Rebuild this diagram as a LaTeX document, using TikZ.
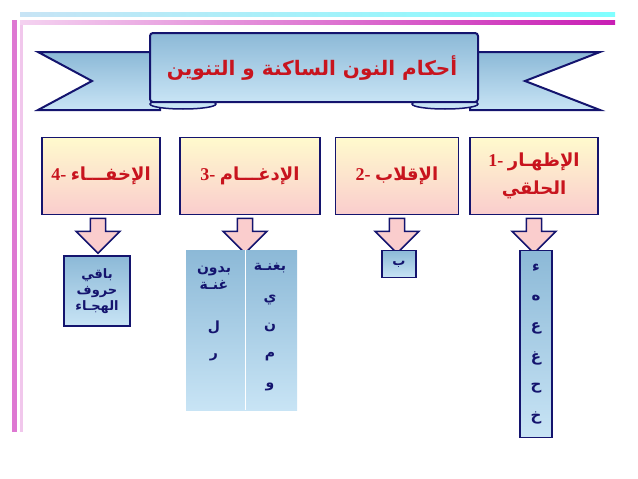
\documentclass[tikz,border=0pt]{standalone}
\usepackage{fontspec}
\setmainfont{Liberation Serif}
\newfontfamily\arab[Script=Arabic]{DejaVu Sans}
\TeXXeTstate=1
\usetikzlibrary{shapes.arrows}
\definecolor{navy}{RGB}{20,20,110}
\definecolor{tred}{RGB}{200,20,30}
\definecolor{ltblue}{RGB}{200,228,245}
\definecolor{midblue}{RGB}{140,185,215}
\definecolor{ylw}{RGB}{255,250,205}
\definecolor{pnk}{RGB}{250,205,205}
\definecolor{mag}{RGB}{200,30,180}
\begin{document}
\begin{tikzpicture}[x=1pt,y=-1pt,
  catbox/.style={draw=navy,line width=1.2pt,top color=ylw,bottom color=pnk,minimum height=77pt,align=center,font=\bfseries\fontsize{18}{22}\selectfont,text=tred},
  letbox/.style={draw=navy,line width=1.5pt,top color=midblue,bottom color=ltblue,align=center,font=\arab\bfseries\fontsize{13}{16}\selectfont,text=navy},
  darr/.style={single arrow,shape border rotate=270,draw=navy,line width=1.5pt,fill=pnk,minimum height=35pt,minimum width=44pt,single arrow head extend=9pt,inner sep=4pt}]
\useasboundingbox (0,0) rectangle (638,479);
% decoration
\fill[mag!60] (12,20) rectangle (17,432);
\fill[mag!25] (20,24) rectangle (23,432);
\shade[left color=ltblue,right color=cyan!50] (20,12) rectangle (615,16);
\shade[left color=mag!20,right color=mag] (20,20) rectangle (615,24);
% banner
\coordinate (c) at (312,68);
\shade[draw=navy,line width=2pt,top color=midblue,bottom color=ltblue] (38,52) -- (160,52) -- (160,110) -- (38,110) -- (92,81) -- cycle;
\shade[draw=navy,line width=2pt,top color=midblue,bottom color=ltblue] (600,52) -- (470,52) -- (470,110) -- (600,110) -- (525,81) -- cycle;
\draw[navy,line width=1.5pt,fill=ltblue] (183,104) ellipse (33 and 5);
\draw[navy,line width=1.5pt,fill=ltblue] (445,104) ellipse (33 and 5);
\shade[draw=navy,line width=2pt,top color=midblue,bottom color=ltblue,rounded corners=3pt] (150,33) rectangle (478,102);
\node[font=\arab\bfseries\fontsize{20}{24}\selectfont,text=tred] (title) at (c) {\beginR أحكام النون الساكنة و التنوين\endR};
% category boxes
\node[catbox,minimum width=128pt] (b1) at (534,176) {1- {\arab\beginR الإظهـار\endR}\\[6pt]{\arab\beginR الحلقي\endR}};
\node[catbox,minimum width=123pt] (b2) at (397,176) {2- {\arab\beginR الإقلاب\endR}};
\node[catbox,minimum width=140pt] (b3) at (250,176) {3- {\arab\beginR الإدغـــام\endR}};
\node[catbox,minimum width=118pt] (b4) at (101,176) {4- {\arab\beginR الإخفـــاء\endR}};
% arrows
\foreach \n/\x in {1/534,2/397,3/245,4/98}{
  \node[darr] (a\n) at (\x,232) {};
}
% lower boxes
\node[letbox,minimum width=66pt,minimum height=70pt] (l4) at (97,291) {\beginR باقي\endR\\\beginR حروف\endR\\\beginR الهجـاء\endR};
\node[letbox,minimum width=34pt,minimum height=27pt] (l2) at (399,264) {\beginR ب\endR};
\node[letbox,minimum width=32pt,minimum height=187pt] (l1) at (536,344) {};
\foreach \t [count=\i] in {ء,ه,ع,غ,ح,خ}{
  \node[font=\arab\bfseries\fontsize{15}{17}\selectfont,text=navy] at (536,268+\i*30-30) {\beginR \t\endR};
}
\shade[top color=midblue,bottom color=ltblue] (186,250) rectangle (297,410);
\draw[white,line width=0.6pt] (245,250) -- (245,410);
\node[font=\arab\bfseries\fontsize{14}{17}\selectfont,text=navy] (g1) at (270,268) {\beginR بغنـة\endR};
\node[font=\arab\bfseries\fontsize{14}{17}\selectfont,text=navy,align=center] (g2) at (214,278) {\beginR بدون\endR\\\beginR غنـة\endR};
\foreach \t/\y in {ي/300,ن/327,م/357,و/387}{
  \node[font=\arab\bfseries\fontsize{14}{16}\selectfont,text=navy] at (270,\y) {\beginR \t\endR};
}
\foreach \t/\y in {ل/327,ر/357}{
  \node[font=\arab\bfseries\fontsize{14}{16}\selectfont,text=navy] at (214,\y) {\beginR \t\endR};
}
\end{tikzpicture}
\end{document}
